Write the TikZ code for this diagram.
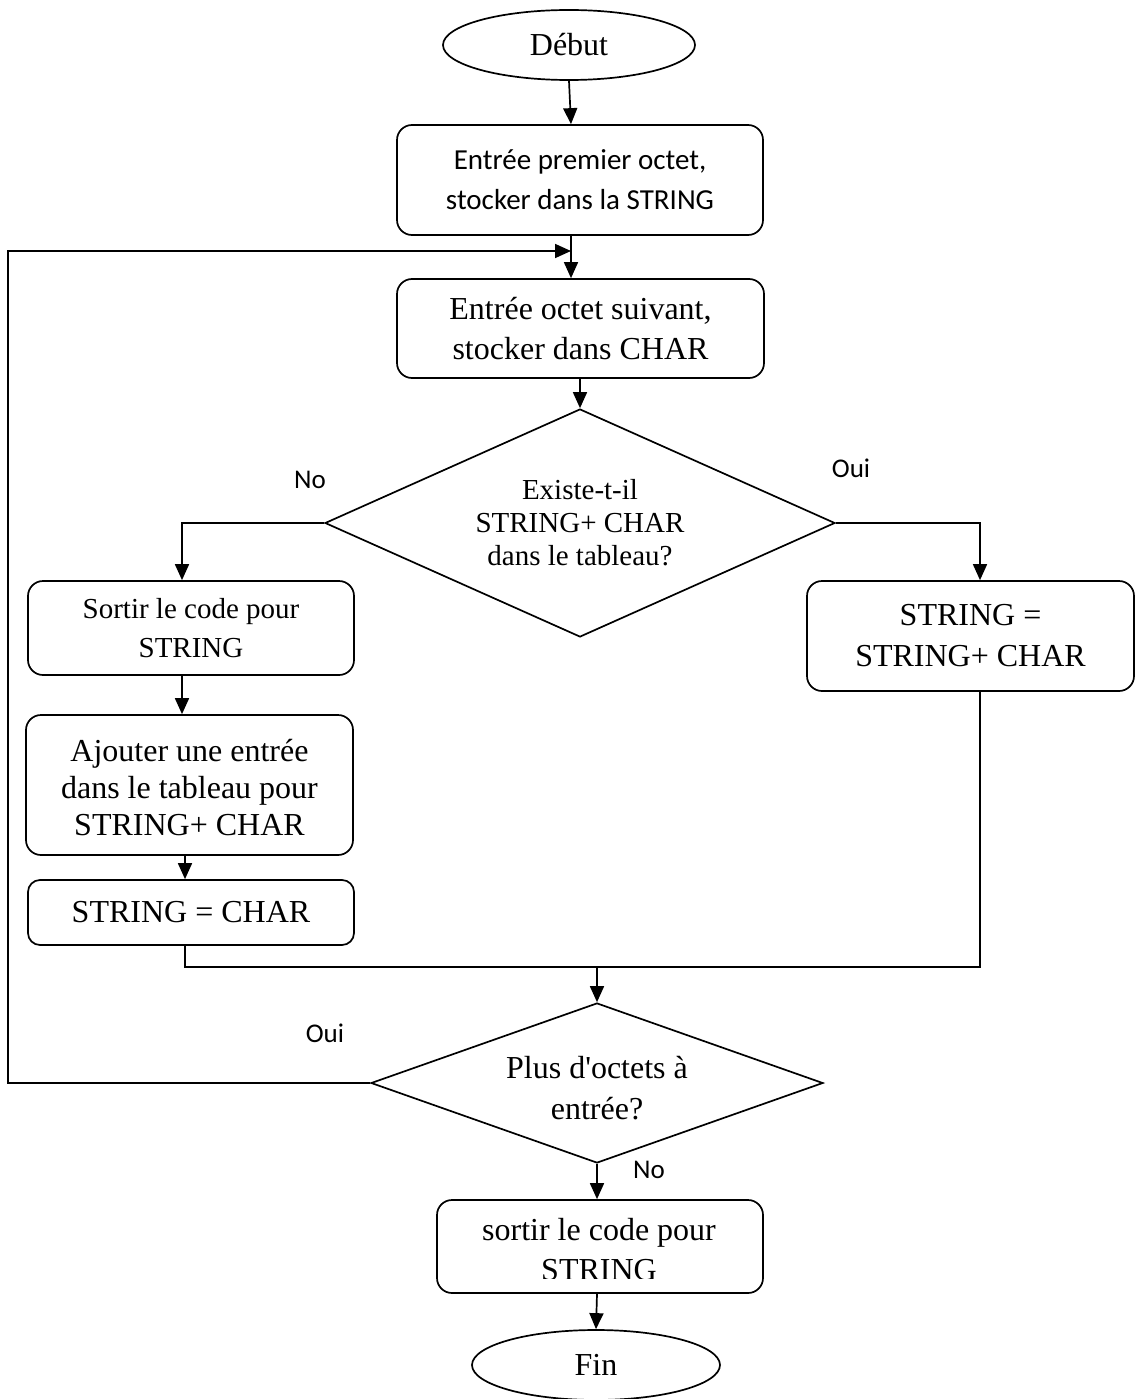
\documentclass[tikz,border=0pt]{standalone}
\usepackage{fontspec}
\setmainfont{Liberation Serif}
\newfontfamily\calibrifont{Carlito}
\usetikzlibrary{shapes.geometric,arrows.meta}

\tikzset{
  base/.style={draw, line width=1.7pt, inner sep=0pt, align=center},
  proc/.style={base, rounded corners=15pt},
  term/.style={base, ellipse},
  test/.style={base, diamond},
  conn/.style={line width=1.7pt},
  arr/.style={conn, -{Triangle[length=16pt,width=14pt]}},
  lbl/.style={font=\calibrifont\fontsize{27}{30}\selectfont, anchor=base},
  big/.style={font=\fontsize{32}{37}\selectfont},
}

\begin{document}
\begin{tikzpicture}[x=1pt,y=-1pt]
\useasboundingbox (0,0) rectangle (1135,1399);

% nodes
\node[term, big, minimum width=252pt, minimum height=70pt] (debut) at (569,45) {Début};
\node[proc, minimum width=366pt, minimum height=110pt,
      font=\calibrifont\fontsize{29}{40}\selectfont] (b1) at (580,180)
  {Entrée premier octet,\\stocker dans la STRING};
\node[proc, font=\fontsize{32}{40}\selectfont, minimum width=367pt, minimum height=99pt] (b2) at (580.5,328.5)
  {Entrée octet suivant,\\stocker dans CHAR};
\node[test, shape aspect=2.24, font=\fontsize{29}{33}\selectfont,
      minimum width=510pt, minimum height=228pt] (d1) at (580,523)
  {Existe-t-il\\STRING+ CHAR\\dans le tableau?};
\node[proc, font=\fontsize{29}{39}\selectfont, minimum width=326pt, minimum height=94pt] (b3) at (191,628)
  {Sortir le code pour\\STRING};
\node[proc, font=\fontsize{32}{41}\selectfont, minimum width=327pt, minimum height=110pt] (b4) at (970.5,636)
  {STRING =\\STRING+ CHAR};
\node[proc, big, minimum width=327pt, minimum height=140pt] (b5) at (189.5,785)
  {};
\node[big, align=center, inner sep=0pt] (b5text) at (189.5,788)
  {Ajouter une entrée\\dans le tableau pour\\STRING+ CHAR};
\node[proc, big, rounded corners=12pt, minimum width=326pt, minimum height=65pt] (b6) at (191,912.5)
  {STRING = CHAR};
\node[test, shape aspect=2.8, minimum width=452pt, minimum height=160pt] (d2) at (597,1083) {};
\node[font=\fontsize{32}{41}\selectfont, align=center, inner sep=0pt] (d2text) at (597,1088)
  {Plus d\textquotesingle octets à\\entrée?};
\node[proc, minimum width=326pt, minimum height=93pt] (b7) at (600,1246.5) {};
\begin{scope}
  \clip (b7.north west) rectangle ([yshift=15pt]b7.south east);
  \node[font=\fontsize{32}{40}\selectfont, align=center, inner sep=0pt] (b7text) at (599,1250)
    {sortir le code pour\\STRING};
\end{scope}
\node[term, big, minimum width=248pt, minimum height=70pt] (fin) at (596,1365) {Fin};

% branch labels
\node[lbl] (lno1) at (310,488) {No};
\node[lbl] (loui1) at (851,477) {Oui};
\node[lbl] (loui2) at (325,1042) {Oui};
\node[lbl] (lno2) at (649,1178) {No};

% helper points
\coordinate (join) at (571,251);
\coordinate (loopx) at (8,251);
\coordinate (m) at (597,967);

% connectors
\draw[arr] (debut.south) -- ([xshift=-9pt]b1.north);
\draw[arr] ([xshift=-9pt]b1.south) -- ([xshift=-9.5pt]b2.north);
\draw[arr] (d2.west) -| (loopx) |- (join);
\draw[arr] (d1.north |- b2.south) -- (d1.north);
\draw[arr] (d1.west) -| ([xshift=-9pt]b3.north);
\draw[arr] (d1.east) -| ([xshift=9.5pt]b4.north);
\draw[arr] ([xshift=-9pt]b3.south) -- ([xshift=-7.5pt]b5.north);
\draw[arr] ([xshift=-4.5pt]b5.south) -- ([xshift=-6pt]b6.north);
\draw[conn] ([xshift=-6pt]b6.south) |- (m) -| ([xshift=9.5pt]b4.south);
\draw[arr] (m) -- (d2.north);
\draw[arr] (d2.south) -- ([xshift=-3pt]b7.north);
\draw[arr] ([xshift=-3pt]b7.south) -- (fin.north);
\end{tikzpicture}
\end{document}
